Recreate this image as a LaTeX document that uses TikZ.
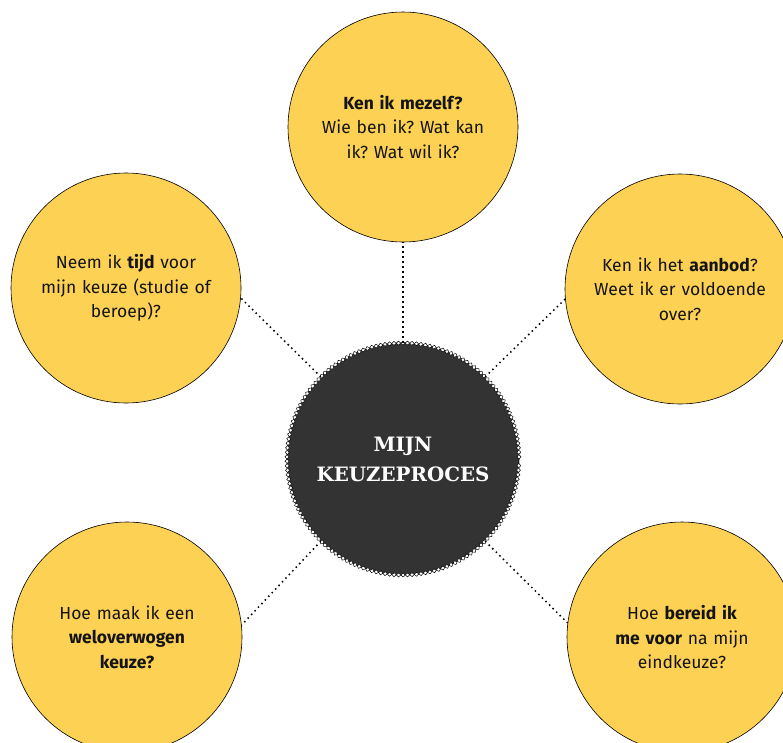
\documentclass[tikz,border=0pt]{standalone}
\usepackage{fontspec}
\setmainfont{Fira Sans}
\newfontfamily\slabfont{DejaVu Serif}
\usetikzlibrary{decorations.pathmorphing}
\definecolor{kyellow}{HTML}{FDD154}
\definecolor{kdark}{HTML}{333333}
\frenchspacing
\begin{document}
\begin{tikzpicture}[x=1pt,y=-1pt,
 bubble/.style={circle, draw=black, line width=0.6pt, fill=kyellow, minimum size=230pt, inner sep=0pt, text width=200pt, align=center, font=\fontsize{17.5}{24.5}\selectfont, text=black!92},
 hub/.style={circle, fill=kdark, minimum size=232pt, inner sep=0pt, align=center, text=white, font=\slabfont\bfseries\fontsize{19.8}{30}\selectfont},
 dotline/.style={line width=1.5pt, dash pattern=on 1.5pt off 3.5pt},
 zz/.style={decoration={zigzag, segment length=9pt, amplitude=2pt}},
 zzm/.style={decoration={zigzag, segment length=9pt, amplitude=2pt, mirror}}]
\useasboundingbox (0,0) rectangle (783,742);
\node[hub] (c) at (403,459) {MIJN\\KEUZEPROCES};
\fill[white, even odd rule] decorate[zz] {(c.center) circle (116pt)} decorate[zzm] {(c.center) circle (116pt)};
\draw[black, line width=0.5pt] decorate[zz] {(c.center) circle (116pt)};
\draw[black, line width=0.5pt] decorate[zzm] {(c.center) circle (116pt)};
\node[bubble] (t) at (403,127) {\textbf{Ken ik mezelf?}\\Wie ben ik? Wat kan\\ik? Wat wil ik?};
\node[bubble] (l) at (126,288) {Neem ik \textbf{tijd} voor\\mijn keuze (studie of\\beroep)?};
\node[bubble] (r) at (680,289) {Ken ik het \textbf{aanbod}?\\Weet ik er voldoende\\over?};
\node[bubble] (bl) at (127,637) {Hoe maak ik een\\\textbf{weloverwogen}\\\textbf{keuze?}};
\node[bubble] (br) at (682,637) {Hoe \textbf{bereid ik}\\\textbf{me voor} na mijn\\eindkeuze?};
\draw[dotline] (c.90) -- (t.270);
\draw[dotline] (c.135) -- (l.-5);
\draw[dotline] (c.45) -- (r.185);
\draw[dotline] (c.225) -- (bl.6);
\draw[dotline] (c.-45) -- (br.173);
\end{tikzpicture}
\end{document}
